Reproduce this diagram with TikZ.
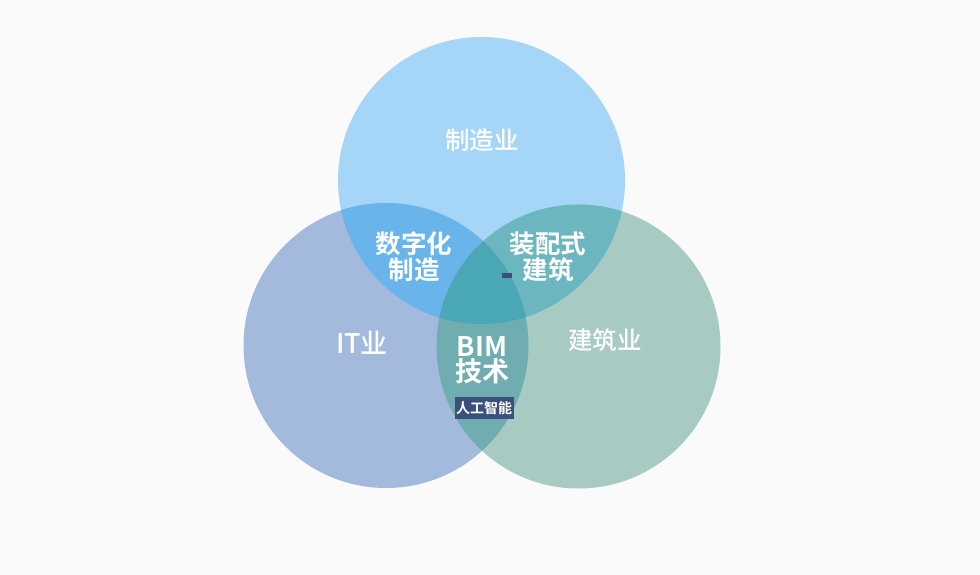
\documentclass[tikz,border=0pt]{standalone}
\usepackage{fontspec}
\newfontfamily\cjk{Noto Sans CJK SC Medium}
\newfontfamily\cjkb{Noto Sans CJK SC Bold}
\definecolor{bgc}{HTML}{FAFAFA}
\definecolor{ctop}{HTML}{A5D6F8}
\definecolor{cleft}{HTML}{A3BADC}
\definecolor{cright}{HTML}{A7CAC3}
\definecolor{ctl}{HTML}{69B5EB}
\definecolor{ctr}{HTML}{6CB7BF}
\definecolor{clr}{HTML}{70ADB0}
\definecolor{cmid}{HTML}{4AA7B6}
\definecolor{navy}{HTML}{3B4F7C}
\tikzset{
  lbl/.style={text=white, align=center, inner sep=0pt, font=\cjk\fontsize{24.5}{26}\selectfont},
  lblb/.style={text=white, align=center, inner sep=0pt, font=\cjkb\fontsize{25.5}{26}\selectfont},
  tagbox/.style={fill=navy, text=white, inner xsep=1.5pt, inner ysep=0pt, minimum height=22pt, font=\cjkb\fontsize{14}{15}\selectfont}
}
\begin{document}
\begin{tikzpicture}[x=1pt,y=-1pt]
\fill[bgc] (0,0) rectangle (980,575);
\useasboundingbox (0,0) rectangle (980,575);
\coordinate (T) at (481.5,180.5);
\coordinate (L) at (386,345.5);
\coordinate (R) at (578.5,346.5);
\def\rT{143.5}\def\rL{142.5}\def\rR{142}
\fill[ctop] (T) circle (\rT);
\fill[cleft] (L) circle (\rL);
\fill[cright] (R) circle (\rR);
\begin{scope}\clip (T) circle (\rT); \fill[ctl] (L) circle (\rL);\end{scope}
\begin{scope}\clip (T) circle (\rT); \fill[ctr] (R) circle (\rR);\end{scope}
\begin{scope}\clip (L) circle (\rL); \fill[clr] (R) circle (\rR);\end{scope}
\begin{scope}\clip (T) circle (\rT); \clip (L) circle (\rL); \fill[cmid] (R) circle (\rR);\end{scope}
\node[lbl] (mfg) at (482,140) {制造业};
\node[lbl, font=\cjk\fontsize{27}{28}\selectfont] (it) at (362,343) {IT业};
\node[lbl] (con) at (605,340) {建筑业};
\node[lblb] (dig) at (414,257) {数字化\\制造};
\node[lblb] (pre) at (548,257) {装配式\\建筑};
\node[lblb, font=\cjkb\fontsize{27}{25}\selectfont] (bim) at (482,360) {BIM\\技术};
\node[tagbox] (ai) at (484,408) {人工智能};
\node[fill=navy, minimum width=10pt, minimum height=5pt, inner sep=0pt] (tiny) at (507,275.5) {};
\end{tikzpicture}
\end{document}
